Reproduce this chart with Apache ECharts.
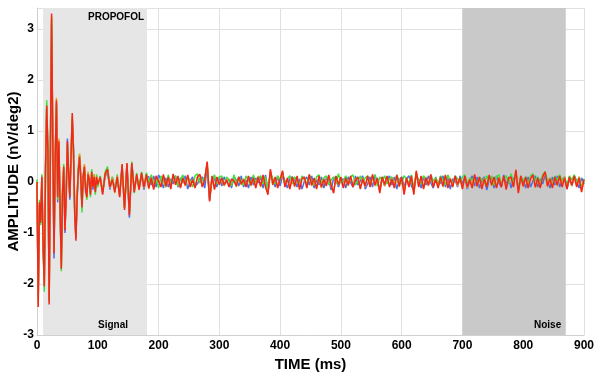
<!DOCTYPE html>
<html>
<head>
<meta charset="utf-8">
<script src="https://cdn.jsdelivr.net/npm/echarts@6/dist/echarts.min.js"></script>
<style>
  html, body { margin: 0; padding: 0; background: #fff; }
  #chart { width: 600px; height: 375px; }
</style>
</head>
<body>
<div id="chart"></div>
<script>
// sample times (ms): every 2 ms up to 100, then every 4 ms up to 900
var time = [];
for (var t = 0; t <= 100; t += 2) time.push(t);
for (var t = 104; t <= 900; t += 4) time.push(t);

var xTicks = [0, 100, 200, 300, 400, 500, 600, 700, 800, 900];
var yTicks = [-3, -2, -1, 0, 1, 2, 3];

// shaded windows (ms)
var signalWin = [10, 181];
var noiseWin = [700, 870];

var red = [
  0.0, -2.45, -0.4, -0.8, 0.1, -1.2, -2.05, 0.2, 1.5, 0.6,
  -2.4, 0.5, 3.3, 0.8, -1.4, 0.5, 1.6, -0.3, 0.8, -0.5,
  -1.7, -0.2, 0.3, -0.95, -0.3, 0.8, 0.2, -0.3, 0.5, 1.35,
  0.6, -0.6, -1.15, -0.3, 0.2, 0.5, 0.1, -0.5, 0.1, 0.3,
  -0.15, -0.3, 0.15, 0.05, -0.25, 0.2, -0.1, 0.1, -0.2, 0.1,
  -0.05,
  0.1, -0.25, 0.15, 0.25, -0.1, 0.05, -0.2, 0.1, -0.3, 0.35,
  -0.55, 0.37, -0.65, 0.37, -0.2, 0.15, -0.15, 0.18, -0.1, 0.15,
  -0.12, 0.08, -0.15, 0.12, 0.02, -0.1, 0.15, -0.08, 0.1, -0.14,
  0.16, -0.05, 0.12, -0.12, 0.08, -0.06, 0.14, -0.1, 0.05, -0.12,
  0.1, 0.15, -0.1, 0.05, 0.4, -0.38, 0.12, -0.15, 0.1, -0.05,
  0.08, -0.06, 0.04, -0.1, 0.06, 0.02, -0.08, 0.1, -0.04, 0.05,
  -0.1, 0.12, -0.06, 0.08, -0.12, 0.1, -0.08, 0.14, -0.1, -0.25,
  0.25, -0.05, 0.1, -0.12, 0.05, 0.22, -0.1, 0.08, -0.14, 0.1,
  -0.08, 0.12, -0.15, 0.06, 0.1, -0.12, 0.15, -0.06, 0.08, -0.14,
  0.12, -0.1, 0.05, -0.08, 0.14, -0.06, -0.22, 0.12, -0.05, 0.1,
  -0.12, 0.08, -0.06, 0.12, -0.1, 0.04, 0.1, -0.14, 0.06, -0.08,
  0.12, -0.1, 0.15, -0.06, 0.08, -0.22, 0.1, -0.05, 0.12, -0.1,
  0.06, -0.12, 0.14, -0.08, 0.1, -0.25, 0.08, -0.1, 0.12, -0.25,
  0.22, -0.1, 0.12, -0.14, 0.08, -0.06, 0.15, -0.1, 0.05, -0.12,
  0.1, -0.08, 0.14, -0.12, 0.06, -0.1, 0.12, -0.05, 0.08, -0.14,
  0.12, -0.1, 0.05, -0.12, 0.15, -0.08, 0.1, -0.14, 0.06, -0.1,
  0.14, -0.06, 0.1, -0.12, 0.08, -0.1, 0.12, -0.15, 0.08, 0.1,
  -0.1, 0.24, -0.22, 0.12, -0.08, 0.1, -0.12, 0.06, 0.14, -0.1,
  0.08, -0.12, 0.1, 0.2, -0.08, 0.06, -0.12, 0.1, -0.06, 0.12,
  -0.1, 0.08, -0.14, 0.1, -0.06, 0.12, -0.1, 0.08, -0.2, 0.05
];

var blue = [
  0.0, -2.3, -0.45, -0.75, 0.05, -1.3, -1.95, 0.3, 1.45, 0.5,
  -2.3, 0.6, 3.1, 0.7, -1.5, 0.4, 1.55, -0.4, 0.7, -0.6,
  -1.5, -0.3, 0.25, -1.0, -0.2, 0.85, 0.1, -0.35, 0.45, 1.2,
  0.7, -0.5, -1.1, -0.35, 0.25, 0.45, 0.05, -0.45, 0.15, 0.25,
  -0.2, -0.25, 0.1, 0.1, -0.2, 0.15, -0.15, 0.05, -0.15, 0.05,
  0.0,
  0.05, -0.2, 0.1, 0.2, -0.15, 0.1, -0.15, 0.05, -0.25, 0.3,
  -0.5, 0.35, -0.7, 0.35, -0.15, 0.1, -0.1, 0.12, -0.15, 0.1,
  0.1, -0.06, 0.12, -0.1, 0.14, 0.04, -0.12, 0.08, -0.1, 0.06,
  -0.04, 0.12, -0.1, 0.08, -0.02, 0.12, -0.14, 0.02, 0.1, -0.08,
  -0.04, 0.06, 0.1, -0.12, 0.3, -0.36, 0.08, 0.06, -0.1, 0.1,
  -0.08, 0.1, -0.02, 0.06, -0.12, 0.1, 0.04, -0.08, 0.12, -0.1,
  0.04, -0.12, 0.1, -0.06, 0.08, -0.02, 0.1, -0.12, 0.14, -0.18,
  0.16, 0.02, -0.1, 0.12, -0.08, 0.12, 0.02, -0.12, 0.06, 0.1,
  0.04, -0.1, 0.06, -0.14, 0.02, 0.1, -0.06, 0.12, -0.12, 0.04,
  -0.06, 0.1, -0.12, 0.08, 0.04, -0.16, 0.08, 0.1, -0.1, 0.04,
  0.06, -0.12, 0.1, -0.02, -0.1, 0.12, -0.06, 0.02, 0.12, -0.14,
  -0.04, 0.1, -0.1, 0.14, -0.02, -0.14, 0.1, -0.08, 0.04, 0.12,
  -0.06, 0.1, -0.14, 0.04, 0.1, -0.1, 0.06, 0.12, -0.08, -0.16,
  0.12, 0.04, -0.12, 0.1, -0.06, 0.12, -0.02, -0.12, 0.1, -0.06,
  -0.02, 0.12, -0.1, 0.08, -0.14, 0.06, 0.04, -0.1, 0.12, -0.04,
  0.1, -0.14, 0.02, 0.12, -0.08, 0.1, -0.12, 0.04, 0.1, -0.16,
  0.04, 0.1, -0.12, 0.12, -0.02, -0.1, 0.14, -0.06, 0.1, -0.12,
  0.06, 0.14, -0.16, 0.1, 0.04, -0.12, 0.1, -0.1, 0.02, 0.12,
  -0.1, 0.06, -0.04, 0.14, 0.02, -0.12, 0.1, -0.06, 0.12, -0.1,
  0.04, 0.1, -0.14, 0.06, -0.08, 0.12, 0.02, -0.12, 0.08, -0.04
];

var green = [
  0.05, -2.2, -0.35, -0.85, 0.15, -1.25, -2.15, 0.25, 1.6, 0.55,
  -2.35, 0.45, 3.2, 0.75, -1.35, 0.55, 1.5, -0.35, 0.75, -0.55,
  -1.75, -0.25, 0.35, -0.9, -0.25, 0.75, 0.25, -0.25, 0.55, 1.25,
  0.55, -0.55, -1.1, -0.25, 0.3, 0.55, 0.15, -0.6, 0.05, 0.3,
  -0.1, -0.35, 0.2, 0.0, -0.3, 0.25, -0.05, 0.15, -0.25, 0.15,
  -0.1,
  0.12, -0.2, 0.2, 0.3, -0.08, 0.1, -0.18, 0.15, -0.28, 0.3,
  -0.5, 0.32, -0.6, 0.4, -0.22, 0.18, -0.12, 0.2, -0.08, 0.18,
  -0.02, 0.14, -0.04, 0.08, -0.12, 0.12, 0.02, -0.1, 0.14, -0.04,
  0.06, 0.12, -0.08, 0.04, 0.14, -0.06, 0.1, 0.02, -0.1, 0.12,
  0.16, -0.02, 0.04, 0.1, 0.34, -0.3, 0.02, 0.14, -0.04, 0.1,
  0.12, -0.06, 0.1, 0.04, -0.08, 0.14, -0.02, 0.1, 0.02, -0.06,
  0.12, 0.02, -0.06, 0.14, -0.02, 0.06, 0.12, -0.04, 0.1, -0.16,
  0.2, 0.06, -0.04, 0.12, 0.02, 0.18, -0.02, 0.06, 0.12, -0.04,
  0.1, 0.02, -0.06, 0.12, 0.04, -0.04, 0.14, 0.02, -0.06, 0.1,
  0.14, -0.02, 0.08, 0.12, -0.06, 0.04, 0.1, -0.04, 0.16, -0.02,
  0.02, 0.12, -0.04, 0.1, 0.14, -0.06, 0.02, 0.12, -0.02, 0.08,
  0.12, -0.04, 0.06, 0.14, -0.08, 0.1, 0.02, 0.12, -0.04, 0.06,
  0.1, -0.06, 0.14, 0.02, -0.04, 0.12, 0.06, -0.02, 0.14, -0.12,
  0.18, 0.02, -0.04, 0.12, 0.06, -0.06, 0.14, 0.02, 0.08, -0.04,
  0.12, 0.04, -0.06, 0.14, 0.02, -0.04, 0.12, 0.06, -0.02, 0.1,
  0.14, -0.04, 0.08, 0.02, 0.12, -0.06, 0.1, 0.04, -0.04, 0.12,
  0.02, 0.12, -0.06, 0.1, 0.14, -0.02, 0.06, 0.12, -0.04, 0.16,
  -0.02, 0.18, -0.12, 0.12, 0.02, 0.1, -0.04, 0.12, 0.16, 0.02,
  0.1, -0.04, 0.14, 0.2, 0.02, 0.08, -0.06, 0.12, 0.04, 0.14,
  0.02, 0.1, -0.06, 0.12, 0.04, 0.14, -0.02, 0.1, -0.1, 0.06
];

var orange = [
  0.0, -2.4, -0.5, -0.7, 0.1, -1.15, -2.0, 0.15, 1.45, 0.65,
  -2.35, 0.55, 3.25, 0.85, -1.35, 0.45, 1.65, -0.3, 0.85, -0.45,
  -1.65, -0.15, 0.3, -0.9, -0.35, 0.75, 0.2, -0.25, 0.5, 1.3,
  0.65, -0.55, -1.1, -0.25, 0.15, 0.55, 0.1, -0.45, 0.1, 0.35,
  -0.1, -0.3, 0.2, 0.05, -0.2, 0.15, -0.1, 0.15, -0.15, 0.1,
  -0.05,
  0.08, -0.22, 0.12, 0.22, -0.12, 0.08, -0.22, 0.12, -0.28, 0.33,
  -0.52, 0.36, -0.62, 0.35, -0.18, 0.12, -0.16, 0.15, -0.12, 0.12,
  -0.14, 0.1, -0.12, 0.1, 0.0, -0.08, 0.12, -0.1, 0.08, -0.12,
  0.14, -0.06, 0.1, -0.1, 0.06, -0.08, 0.12, -0.08, 0.06, -0.1,
  0.08, 0.14, -0.08, 0.04, 0.38, -0.36, 0.1, -0.13, 0.08, -0.06,
  0.06, -0.08, 0.06, -0.08, 0.04, 0.04, -0.1, 0.08, -0.06, 0.06,
  -0.08, 0.1, -0.08, 0.06, -0.1, 0.12, -0.1, 0.12, -0.08, -0.22,
  0.22, -0.06, 0.08, -0.1, 0.06, 0.2, -0.08, 0.06, -0.12, 0.08,
  -0.1, 0.1, -0.12, 0.08, 0.08, -0.1, 0.12, -0.08, 0.06, -0.12,
  0.1, -0.12, 0.06, -0.06, 0.12, -0.08, -0.2, 0.1, -0.06, 0.08,
  -0.1, 0.06, -0.08, 0.1, -0.08, 0.06, 0.08, -0.12, 0.08, -0.1,
  0.1, -0.08, 0.12, -0.08, 0.06, -0.2, 0.08, -0.08, 0.1, -0.08,
  0.08, -0.1, 0.12, -0.1, 0.08, -0.22, 0.06, -0.08, 0.1, -0.22,
  0.2, -0.08, 0.1, -0.12, 0.1, -0.08, 0.12, -0.08, 0.06, -0.1,
  0.08, -0.1, 0.12, -0.1, 0.08, -0.08, 0.1, -0.08, 0.06, -0.12,
  0.1, -0.12, 0.06, -0.1, 0.12, -0.1, 0.08, -0.12, 0.08, -0.08,
  0.12, -0.08, 0.08, -0.1, 0.1, -0.08, 0.1, -0.12, 0.06, 0.08,
  -0.08, 0.22, -0.2, 0.1, -0.1, 0.08, -0.1, 0.08, 0.12, -0.12,
  0.06, -0.1, 0.08, 0.18, -0.1, 0.08, -0.1, 0.08, -0.08, 0.1,
  -0.08, 0.1, -0.12, 0.08, -0.08, 0.1, -0.08, 0.1, -0.18, 0.04
];

function pairs(vals) {
  return time.map(function (t, i) { return [t, vals[i]]; });
}

var FONT = "'Liberation Sans', Arial, sans-serif";

function lineSeries(name, color, vals) {
  return {
    name: name,
    type: 'line',
    data: pairs(vals),
    showSymbol: false,
    symbol: 'none',
    lineStyle: { color: color, width: 1.5 },
    silent: true
  };
}

var chart = echarts.init(document.getElementById('chart'));
chart.setOption({
  animation: false,
  backgroundColor: '#fff',
  grid: { left: 37, right: 16, top: 8, bottom: 40, outerBoundsMode: 'none', containLabel: false },
  xAxis: {
    type: 'value',
    min: xTicks[0],
    max: xTicks[xTicks.length - 1],
    interval: 100,
    name: 'TIME (ms)',
    nameLocation: 'middle',
    nameGap: 19,
    nameTextStyle: { fontFamily: FONT, fontWeight: 'bold', fontSize: 15, color: '#000' },
    axisLine: { onZero: false, lineStyle: { color: '#d0d0d0' } },
    axisTick: { show: false },
    axisLabel: { fontFamily: FONT, fontWeight: 'bold', fontSize: 12, color: '#000', margin: 5 },
    splitLine: { show: true, lineStyle: { color: '#e0e0e0', width: 1 } }
  },
  yAxis: {
    type: 'value',
    min: yTicks[0],
    max: 3.41,
    interval: 1,
    name: 'AMPLITUDE (nV/deg2)',
    nameLocation: 'middle',
    nameGap: 16,
    nameMoveOverlap: false,
    nameTextStyle: { fontFamily: FONT, fontWeight: 'bold', fontSize: 15, color: '#000' },
    axisLine: { show: true, lineStyle: { color: '#d0d0d0' } },
    axisTick: { show: false },
    axisLabel: {
      fontFamily: FONT, fontWeight: 'bold', fontSize: 12, color: '#000', margin: 3,
      showMaxLabel: false,
      formatter: function (v) { return yTicks.indexOf(v) >= 0 ? String(v) : ''; }
    },
    splitLine: { show: true, lineStyle: { color: '#e0e0e0', width: 1 } }
  },
  series: [
    {
      name: 'windows',
      type: 'line',
      data: [],
      silent: true,
      markArea: {
        silent: true,
        data: [
          [{ xAxis: signalWin[0], itemStyle: { color: '#e6e6e6' } }, { xAxis: signalWin[1] }],
          [{ xAxis: noiseWin[0], itemStyle: { color: '#c9c9c9' } }, { xAxis: noiseWin[1] }]
        ]
      }
    },
    lineSeries('blue', '#4a6fe8', blue),
    lineSeries('green', '#3ee03a', green),
    lineSeries('orange', '#e8a020', orange),
    lineSeries('red', '#f2281c', red)
  ],
  graphic: [
    { type: 'text', z: 100, left: 88, top: 12, style: { text: 'PROPOFOL', font: "bold 10px 'Liberation Sans', Arial, sans-serif", fill: '#000' } },
    { type: 'text', z: 100, left: 98, top: 320, style: { text: 'Signal', font: "bold 10px 'Liberation Sans', Arial, sans-serif", fill: '#000' } },
    { type: 'text', z: 100, left: 534, top: 320, style: { text: 'Noise', font: "bold 10px 'Liberation Sans', Arial, sans-serif", fill: '#000' } }
  ]
});
</script>
</body>
</html>
